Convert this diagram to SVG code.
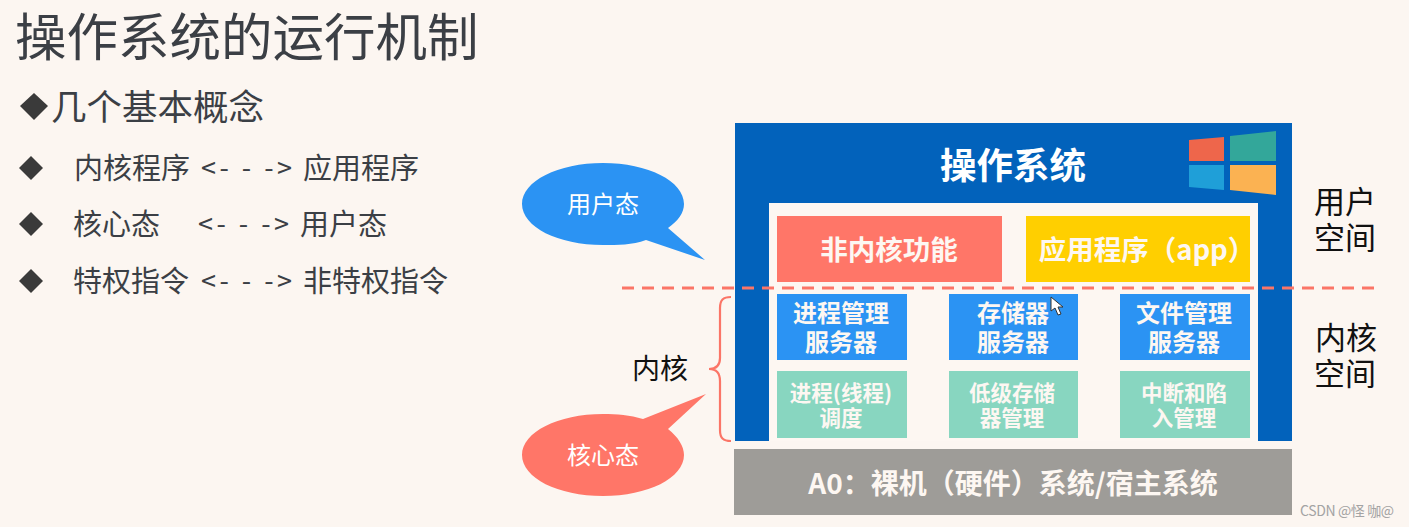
<svg xmlns="http://www.w3.org/2000/svg" width="1409" height="527" viewBox="0 0 1409 527">
<style>
text{font-family:"Noto Sans CJK SC","Noto Sans",sans-serif}
.dk{fill:#3b3f45}
.bul{fill:#3a3a3a}
.wl{fill:#fff;text-anchor:middle;font-size:24px}
.b{fill:#111;font-size:31px;text-anchor:middle}
.row{font-size:29px}
.t1{font-size:24px}
.t2{font-size:21.5px}
.blue{fill:#2b93f3}
.teal{fill:#88d6c0}
.w2t{fill:#fdf7f2;font-weight:700;text-anchor:middle}
</style>
<rect width="1409" height="527" fill="#fcf6f1"/>
<g id="heading">
<text class="dk" x="15" y="56" font-size="51.500">操作系统的运行机制</text>
<polygon class="bul" points="20,106 34,93 48,106 34,120"/>
<text class="dk" x="51" y="120" font-size="35.500">几个基本概念</text>
</g>
<g id="list">
<polygon class="bul" points="19,168 31,156 43,168 31,180"/>
<text class="dk row" x="74" y="179">内核程序</text>
<text class="dk" x="201" y="178" font-size="27" textLength="91">&lt;- - -&gt;</text>
<text class="dk row" x="303" y="179">应用程序</text>
<polygon class="bul" points="19,224 31,212 43,224 31,236"/>
<text class="dk row" x="73" y="235">核心态</text>
<text class="dk" x="198" y="234" font-size="27" textLength="91">&lt;- - -&gt;</text>
<text class="dk row" x="300" y="235">用户态</text>
<polygon class="bul" points="19,281 31,269 43,281 31,293"/>
<text class="dk row" x="73" y="292">特权指令</text>
<text class="dk" x="201" y="291" font-size="27" textLength="91">&lt;- - -&gt;</text>
<text class="dk row" x="303" y="292">非特权指令</text>
</g>
<g id="os-frame">
<rect x="735" y="123" width="557" height="318" fill="#0262bb"/>
<rect x="769" y="203" width="489" height="238" fill="#fdf7f2"/>
<text class="w2t" x="1013" y="179" font-size="36.500" style="fill:#fff">操作系统</text>
<polygon points="1189,140 1224,137 1224,161 1189,161" fill="#ee664b"/>
<polygon points="1230,136 1276,131 1276,161 1230,161" fill="#33a79a"/>
<polygon points="1189,165 1224,165 1224,190 1189,187" fill="#1f9fd8"/>
<polygon points="1230,165 1276,165 1276,195 1230,190" fill="#fbb252"/>
</g>
<g id="non-kernel">
<rect x="777" y="216" width="225" height="66" fill="#ff7668"/>
<text class="w2t" x="889" y="260" font-size="27.500">非内核功能</text>
</g>
<g id="app">
<rect x="1026" y="216" width="224" height="66" fill="#ffcf00"/>
<text class="w2t" x="1147" y="260" font-size="27.500">应用程序（app）</text>
</g>
<g id="process-server">
<rect class="blue" x="777" y="294" width="130" height="66"/>
<text class="w2t t1" x="841" y="322">进程管理</text>
<text class="w2t t1" x="841" y="351">服务器</text>
</g>
<g id="memory-server">
<rect class="blue" x="949" y="294" width="129" height="66"/>
<text class="w2t t1" x="1013" y="322">存储器</text>
<text class="w2t t1" x="1013" y="351">服务器</text>
</g>
<g id="file-server">
<rect class="blue" x="1120" y="294" width="130" height="66"/>
<text class="w2t t1" x="1184" y="322">文件管理</text>
<text class="w2t t1" x="1184" y="351">服务器</text>
</g>
<g id="scheduler">
<rect class="teal" x="777" y="371" width="130" height="67"/>
<text class="w2t t2" x="841" y="401">进程(线程)</text>
<text class="w2t t2" x="841" y="426">调度</text>
</g>
<g id="memory-mgmt">
<rect class="teal" x="949" y="371" width="129" height="67"/>
<text class="w2t t2" x="1012" y="401">低级存储</text>
<text class="w2t t2" x="1012" y="426">器管理</text>
</g>
<g id="interrupt">
<rect class="teal" x="1120" y="371" width="130" height="67"/>
<text class="w2t t2" x="1184" y="401">中断和陷</text>
<text class="w2t t2" x="1184" y="426">入管理</text>
</g>
<g id="hardware">
<rect x="734" y="449" width="558" height="66" fill="#9e9c98"/>
<text class="w2t" x="1013" y="494" font-size="28">A0：裸机（硬件）系统/宿主系统</text>
</g>
<g id="connectors">
<line x1="622" y1="288" x2="1376" y2="288" stroke="#fb7567" stroke-width="3" stroke-dasharray="12 8"/>
<path d="M731,297 C723,297 720,300 720,308 V358 C720,366 716,369 709,369 C716,369 720,373 720,381 V430 C720,438 723,441 731,441" fill="none" stroke="#fb7567" stroke-width="2.200"/>
</g>
<g id="user-mode">
<path d="M668,228 L705,260 L646,240 C632,245 618,245 603,245 C558,245 522,227 522,204 C522,181 558,163 603,163 C648,163 684,181 684,204 C684,213 678,221 668,228 Z" fill="#2b93f3"/>
<text class="wl" x="603" y="213">用户态</text>
</g>
<g id="kernel-mode">
<path d="M668,429 L706,394 L643,419 C630,415 617,414 603,414 C558,414 522,432 522,455 C522,478 558,496 603,496 C648,496 684,478 684,455 C684,446 678,437 668,429 Z" fill="#ff7668"/>
<text class="wl" x="603" y="464">核心态</text>
</g>
<g id="labels">
<text x="660" y="379" fill="#111" font-size="28" text-anchor="middle">内核</text>
<text class="b" x="1345" y="213">用户</text>
<text class="b" x="1345" y="249">空间</text>
<text class="b" x="1346" y="349">内核</text>
<text class="b" x="1345" y="385">空间</text>
<text x="1300" y="516" fill="#a3a3a3" font-size="14" font-family="Liberation Sans,Noto Sans CJK SC,sans-serif" textLength="94">CSDN @怪 咖@</text>
</g>
<g id="cursor">
<polygon points="1051,297 1051,311 1055,308 1058,315 1061,314 1058,307 1063,307" fill="#fff" stroke="#333" stroke-width="1"/>
</g>
</svg>
